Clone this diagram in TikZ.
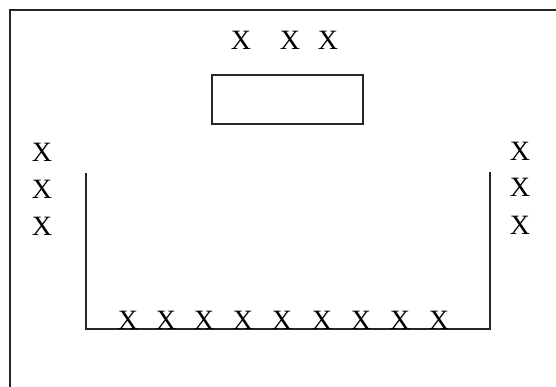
\documentclass[tikz,border=0pt]{standalone}
\usepackage{fontspec}
\setmainfont{Liberation Serif}
\begin{document}
\begin{tikzpicture}[x=1pt,y=-1pt,
  seat/.style={font=\fontsize{28}{28}\selectfont, inner sep=0pt, anchor=base},
  frame/.style={line width=1.7pt, draw=black!85},
  wall/.style={line width=1.4pt, draw=black!85}]
\useasboundingbox (0,0) rectangle (556,387);
% outer frame (left and top sides visible)
\coordinate (fbl) at (10,387);
\coordinate (ftl) at (10,10);
\coordinate (ftr) at (556,10);
\draw[frame] (fbl) -- (ftl) -- (ftr);
% table
\node[wall, draw, minimum width=151pt, minimum height=49pt, inner sep=0pt] (table) at (287.5,99.5) {};
% top seats
\node[seat] (t1) at (241,50) {X};
\node[seat] (t2) at (290,50) {X};
\node[seat] (t3) at (328,50) {X};
% U-shaped arrangement
\coordinate (ul) at (86,173);
\coordinate (bl) at (86,329);
\coordinate (br) at (490,329);
\coordinate (ur) at (490,172);
\draw[wall] (ul) -- (bl) -- (br) -- (ur);
% left seats
\node[seat] (l1) at (42,162) {X};
\node[seat] (l2) at (42,199) {X};
\node[seat] (l3) at (42,236) {X};
% right seats
\node[seat] (r1) at (520,161) {X};
\node[seat] (r2) at (520,197) {X};
\node[seat] (r3) at (520,234) {X};
% bottom seats
\foreach \i/\x in {1/128,2/166,3/204,4/243,5/282,6/322,7/361,8/400,9/439}
  \node[seat] (b\i) at (\x,329) {X};
\end{tikzpicture}
\end{document}
